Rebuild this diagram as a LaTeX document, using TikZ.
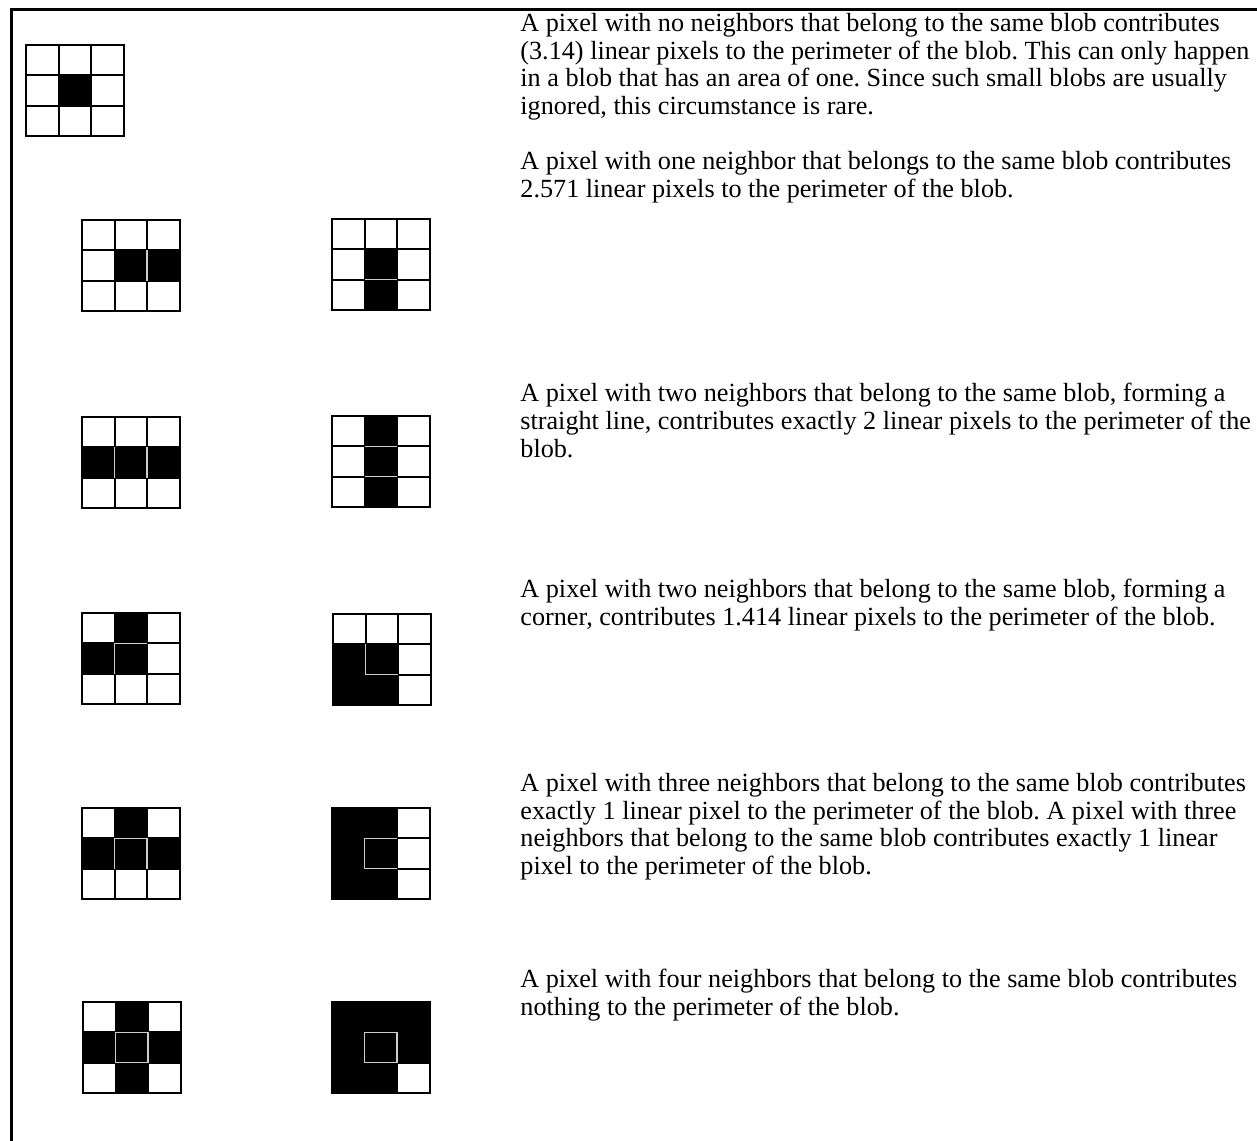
\documentclass[tikz,border=0pt]{standalone}
\usepackage{fontspec}
\setmainfont{Liberation Serif}
\usepackage{tikz}
\usetikzlibrary{positioning}
\usepackage{xcolor}
\definecolor{seamGray}{RGB}{205,205,205}
\frenchspacing

% one 3x3 neighbourhood: #1,#2 top left corner, #3 black cells (col/row),
% #4 light edges round the centre pixel (x1/y1/x2/y2 in cell units)
\newcommand{\pixgrid}[4]{%
  \begin{scope}[shift={(#1,#2)}, x=16.25pt, y=-15.15pt]
    \foreach \c/\r in {#3}
      \fill[black] (\c,\r) rectangle ++(1,1);
    \foreach \i in {1,2} {
      \draw[cellline] (\i,0) -- (\i,3);
      \draw[cellline] (0,\i) -- (3,\i);
    }
    \draw[cellline] (0,0) rectangle (3,3);
    \foreach \xa/\ya/\xb/\yb in {#4}
      \draw[seam] (\xa,\ya) -- (\xb,\yb);
  \end{scope}}

\begin{document}
\begin{tikzpicture}[
  x=0.5pt, y=-0.5pt,
  cellline/.style={line width=1pt, black},
  seam/.style={line width=0.8pt, seamGray},
  desc/.style={anchor=north west, align=left, inner sep=0pt,
    font=\fontsize{13.1}{13.85}\selectfont}
]
  \path[use as bounding box, fill=white] (0,0) rectangle (1257,1140);
  % frame
  \draw[line width=1.5pt] (11,1200) -- (11,9) -- (1300,9);

  % neighbourhoods, left column and right column
  \pixgrid{26}{45}{1/1}{}
  \pixgrid{82}{220}{1/1, 2/1}{2/1/2/2}
  \pixgrid{332}{219}{1/1, 1/2}{1/2/2/2}
  \pixgrid{82}{417}{0/1, 1/1, 2/1}{1/1/1/2, 2/1/2/2}
  \pixgrid{332}{416}{1/0, 1/1, 1/2}{1/1/2/1, 1/2/2/2}
  \pixgrid{82}{613}{1/0, 0/1, 1/1}{1/1/2/1, 1/1/1/2}
  \pixgrid{333}{614}{0/1, 1/1, 0/2, 1/2}{1/1/1/2, 1/2/2/2}
  \pixgrid{82}{808}{1/0, 0/1, 1/1, 2/1}{1/1/2/1, 1/1/1/2, 2/1/2/2}
  \pixgrid{332}{808}{0/0, 1/0, 0/1, 1/1, 0/2, 1/2}{1/1/2/1, 1/1/1/2, 1/2/2/2}
  \pixgrid{83}{1002}{1/0, 0/1, 1/1, 2/1, 1/2}{1/1/2/1, 2/1/2/2, 1/2/2/2, 1/1/1/2}
  \pixgrid{332}{1002}{0/0, 1/0, 2/0, 0/1, 1/1, 2/1, 0/2, 1/2}{1/1/2/1, 2/1/2/2, 1/2/2/2, 1/1/1/2}

  % descriptions
  \node[desc] (t1) at (520,13) {A pixel with no neighbors that belong to the same blob contributes\\
    (3.14) linear pixels to the perimeter of the blob. This can only happen\\
    in a blob that has an area of one. Since such small blobs are usually\\
    ignored, this circumstance is rare.};
  \node[desc] (t2) at (520,151) {A pixel with one neighbor that belongs to the same blob contributes\\
    2.571 linear pixels to the perimeter of the blob.};
  \node[desc] (t3) at (520,383) {A pixel with two neighbors that belong to the same blob, forming a\\
    straight line, contributes exactly 2 linear pixels to the perimeter of the\\
    blob.};
  \node[desc] (t4) at (520,579) {A pixel with two neighbors that belong to the same blob, forming a\\
    corner, contributes 1.414 linear pixels to the perimeter of the blob.};
  \node[desc] (t5) at (520,773) {A pixel with three neighbors that belong to the same blob contributes\\
    exactly 1 linear pixel to the perimeter of the blob. A pixel with three\\
    neighbors that belong to the same blob contributes exactly 1 linear\\
    pixel to the perimeter of the blob.};
  \node[desc] (t6) at (520,969) {A pixel with four neighbors that belong to the same blob contributes\\
    nothing to the perimeter of the blob.};
\end{tikzpicture}
\end{document}
